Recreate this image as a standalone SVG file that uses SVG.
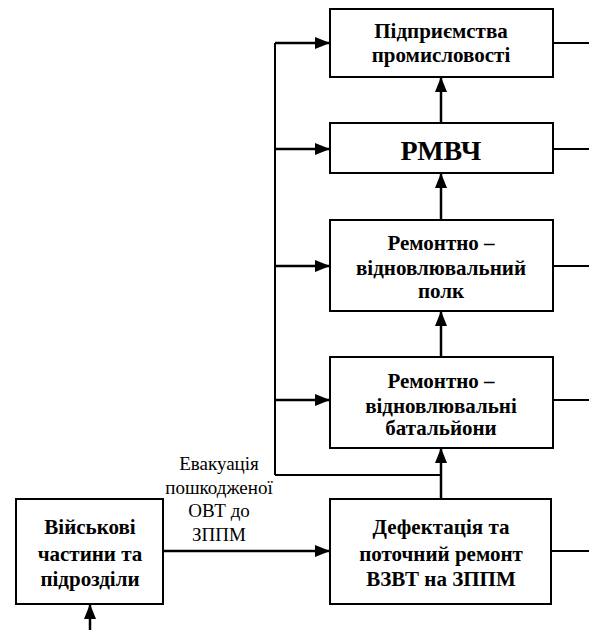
<svg xmlns="http://www.w3.org/2000/svg" width="589" height="630" viewBox="0 0 589 630">
<style>
.box{fill:#fff;stroke:#000;stroke-width:2}
.ln{stroke:#000;stroke-width:2;fill:none}
.ar{stroke:#000;stroke-width:2.5;fill:none}
.t{font-family:'Liberation Serif','Times New Roman',serif;font-weight:bold;font-size:21px;text-anchor:middle;fill:#000}
.lbl{font-family:'Liberation Serif','Times New Roman',serif;font-size:19px;text-anchor:middle;fill:#000}
</style>
<defs>
<marker id="ah" viewBox="0 0 15 12" refX="15" refY="6" markerWidth="15" markerHeight="12" markerUnits="userSpaceOnUse" orient="auto">
<path d="M0,0 L15,6 L0,12 Z" fill="#000"/>
</marker>
</defs>
<g id="connectors">
<path class="ln" d="M275,475 V43"/>
<path class="ar" d="M275,43 H330" marker-end="url(#ah)"/>
<path class="ar" d="M275,149 H330" marker-end="url(#ah)"/>
<path class="ar" d="M275,266 H330" marker-end="url(#ah)"/>
<path class="ar" d="M275,400 H330" marker-end="url(#ah)"/>
<path class="ln" d="M275,475 H441"/>
<path class="ar" d="M441,499 V448" marker-end="url(#ah)"/>
<path class="ar" d="M441,357 V311" marker-end="url(#ah)"/>
<path class="ar" d="M441,220 V173" marker-end="url(#ah)"/>
<path class="ar" d="M441,123 V77" marker-end="url(#ah)"/>
<path class="ar" d="M163,551 H330" marker-end="url(#ah)"/>
<path class="ar" d="M90,630 V604" marker-end="url(#ah)"/>
<path class="ln" d="M553,43 H589 M553,149 H589 M553,266 H589 M553,400 H589 M551,551 H589"/>
<text class="lbl" x="219" y="470">Евакуація</text>
<text class="lbl" x="219" y="494">пошкодженої</text>
<text class="lbl" x="219" y="517">ОВТ до</text>
<text class="lbl" x="219" y="541">ЗППМ</text>
</g>
<g id="n1">
<rect class="box" x="330" y="9" width="223" height="68"/>
<text class="t" x="441" y="38">Підприємства</text>
<text class="t" x="441" y="62">промисловості</text>
</g>
<g id="n2">
<rect class="box" x="330" y="123" width="223" height="50"/>
<text class="t" x="441" y="160" style="font-size:28px">РМВЧ</text>
</g>
<g id="n3">
<rect class="box" x="330" y="220" width="223" height="91"/>
<text class="t" x="441" y="250">Ремонтно –</text>
<text class="t" x="441" y="275">відновлювальний</text>
<text class="t" x="441" y="298">полк</text>
</g>
<g id="n4">
<rect class="box" x="330" y="357" width="223" height="91"/>
<text class="t" x="441" y="388">Ремонтно –</text>
<text class="t" x="441" y="413">відновлювальні</text>
<text class="t" x="441" y="435">батальйони</text>
</g>
<g id="n5">
<rect class="box" x="330" y="499" width="221" height="105"/>
<text class="t" x="441" y="534">Дефектація та</text>
<text class="t" x="441" y="561">поточний ремонт</text>
<text class="t" x="441" y="586">ВЗВТ на ЗППМ</text>
</g>
<g id="n6">
<rect class="box" x="16" y="499" width="147" height="105"/>
<text class="t" x="90" y="534">Військові</text>
<text class="t" x="90" y="561">частини та</text>
<text class="t" x="90" y="586">підрозділи</text>
</g>
</svg>
